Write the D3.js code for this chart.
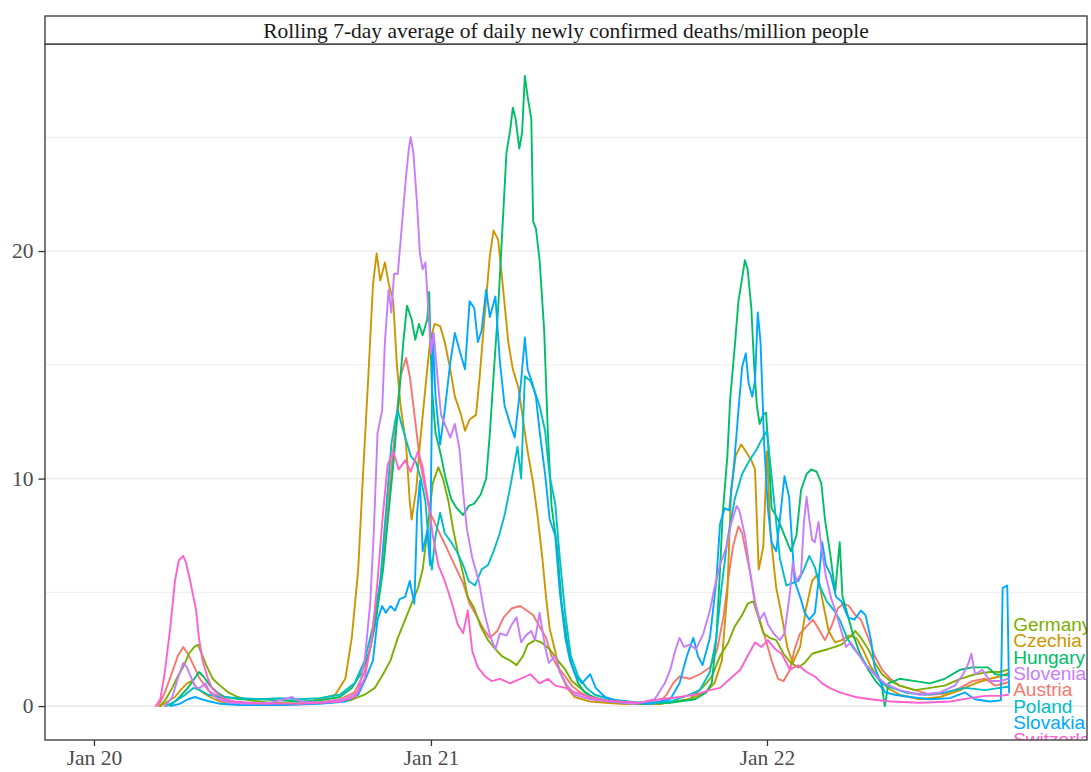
<!DOCTYPE html>
<html><head><meta charset="utf-8">
<script src="https://cdn.jsdelivr.net/npm/d3@7"></script>
<style>body{margin:0;background:#fff}</style>
</head><body>
<svg id="chart" width="1091" height="772"></svg>
<script>
// ---- data (day offsets from 2020-01-01, 7-day rolling avg deaths / million) ----
const countries = ["Austria","Czechia","Germany","Hungary","Poland","Slovakia","Slovenia","Switzerland"];
const colors = ["#F8766D","#CD9600","#7CAE00","#00BE67","#00BFC4","#00A9FF","#C77CFF","#FF61CC"];
const titleText = "Rolling 7-day average of daily newly confirmed deaths/million people";
const yTickValues = [0,10,20];
const yMinorValues = [5,15,25];
const xTickDays = [0,366,731];
const xTickLabels = ["Jan 20","Jan 21","Jan 22"];

const austria = [[70,0],[77,0.6],[85,1.5],[91,2.2],[97,2.6],[102,2.3],[108,1.8],[115,1.2],[124,0.7],[135,0.4],[148,0.2],[169,0.1],[202,0.05],[235,0.1],[267,0.3],[283,0.6],[294,1.5],[305,3.5],[314,6.5],[322,10],[328,12.5],[333,14.5],[339,15.3],[343,14.5],[349,12.5],[354,10.8],[360,9.5],[365,8.5],[373,7.8],[379,7.3],[387,6.6],[394,6.0],[401,5.4],[408,4.5],[415,4.0],[423,3.4],[430,3.0],[438,3.3],[445,3.9],[454,4.3],[463,4.4],[470,4.2],[477,4.0],[484,3.5],[491,3.0],[497,2.2],[504,1.7],[512,1.3],[519,0.9],[528,0.6],[539,0.35],[555,0.2],[577,0.1],[604,0.12],[615,0.2],[622,0.5],[629,1.0],[636,1.3],[647,1.2],[658,1.4],[669,1.7],[677,2.5],[684,4.0],[689,5.6],[694,7.0],[700,7.9],[704,7.6],[708,6.8],[713,5.8],[718,4.6],[723,3.8],[729,3.0],[736,2.0],[743,1.2],[749,1.1],[756,1.6],[761,2.5],[767,3.2],[774,3.5],[781,3.8],[787,3.4],[794,2.9],[801,3.5],[808,4.3],[814,4.5],[820,4.4],[827,4.0],[833,3.8],[841,3.0],[848,2.2],[856,1.6],[865,1.2],[875,0.9],[892,0.7],[908,0.5],[924,0.55],[941,0.8],[954,1.1],[968,1.2],[979,0.9],[993,1.05]];

const czechia = [[72,0],[80,0.2],[88,0.4],[94,0.7],[101,1.0],[106,1.1],[112,0.8],[118,0.6],[126,0.4],[137,0.2],[159,0.1],[191,0.1],[224,0.1],[245,0.3],[262,0.5],[273,1.2],[280,3],[287,6],[292,10],[298,14.5],[303,18.5],[307,19.9],[311,18.7],[316,19.5],[320,18.6],[325,17.8],[329,15.0],[333,13.2],[339,11.5],[343,9.0],[345,8.2],[350,9.5],[354,11.5],[360,14.0],[365,16.0],[370,16.8],[376,16.7],[381,16.0],[387,14.8],[392,13.6],[398,12.9],[403,12.1],[408,12.6],[415,12.8],[419,14.5],[424,17.0],[430,19.8],[434,20.9],[439,20.5],[444,18.5],[450,16.0],[455,14.8],[461,14.0],[466,12.6],[471,11.2],[477,9.8],[482,8.3],[487,6.5],[491,4.8],[495,3.4],[501,2.4],[506,1.5],[514,0.8],[522,0.4],[539,0.2],[571,0.1],[615,0.1],[647,0.3],[664,0.6],[674,1.0],[682,2.0],[688,5.0],[692,9.5],[697,11.0],[703,11.5],[708,11.2],[714,10.8],[718,10.4],[722,6.0],[727,7.0],[731,11.2],[735,7.5],[741,5.2],[746,4.2],[753,2.6],[759,1.9],[767,2.6],[773,4.2],[780,5.5],[786,5.8],[792,4.5],[798,3.3],[805,2.8],[812,2.9],[820,3.1],[828,3.0],[835,2.5],[843,1.8],[852,1.2],[862,0.8],[875,0.5],[897,0.3],[919,0.4],[941,0.7],[957,1.0],[973,1.2],[984,1.3],[993,1.45]];

const germany = [[72,0],[78,0.3],[85,0.8],[91,1.3],[98,1.8],[103,2.3],[109,2.6],[113,2.7],[117,2.3],[123,1.7],[129,1.2],[137,0.9],[146,0.6],[156,0.4],[169,0.25],[191,0.15],[224,0.1],[256,0.15],[278,0.25],[294,0.5],[305,0.8],[314,1.4],[322,2.0],[330,3.0],[338,3.8],[345,4.5],[352,5.2],[357,6.0],[363,8.0],[368,9.8],[374,10.5],[379,10.0],[385,9.0],[390,7.8],[395,6.8],[401,5.8],[406,4.8],[413,4.3],[420,3.5],[428,2.9],[436,2.5],[443,2.2],[452,2.0],[459,1.8],[466,2.2],[471,2.7],[479,2.9],[486,2.8],[495,2.5],[504,2.0],[512,1.6],[519,1.1],[528,0.8],[539,0.45],[555,0.25],[577,0.12],[615,0.1],[647,0.3],[663,0.9],[671,1.3],[680,2.2],[689,2.8],[696,3.5],[704,4.0],[710,4.5],[716,4.6],[721,4.0],[727,3.2],[734,3.0],[741,2.9],[749,2.3],[757,1.9],[765,1.7],[772,1.9],[780,2.3],[788,2.4],[797,2.5],[805,2.6],[812,2.7],[820,3.0],[827,3.3],[833,3.0],[841,2.5],[848,1.9],[856,1.4],[865,1.1],[875,0.9],[892,0.7],[908,0.8],[924,0.9],[941,1.2],[957,1.4],[973,1.5],[984,1.5],[993,1.6]];

const hungary = [[77,0],[85,0.1],[93,0.4],[102,0.8],[109,1.2],[114,1.5],[119,1.3],[126,0.9],[134,0.6],[142,0.4],[159,0.3],[180,0.3],[202,0.25],[224,0.2],[245,0.25],[267,0.4],[280,0.8],[291,1.5],[300,2.5],[307,4.0],[314,6.0],[320,8.5],[326,11.0],[331,13.5],[336,16.0],[340,17.6],[345,17.0],[349,16.1],[353,16.8],[357,16.3],[362,17.0],[364,18.2],[367,14.0],[371,12.0],[377,11.0],[382,10.0],[388,9.1],[394,8.7],[401,8.4],[407,8.8],[413,8.9],[420,9.3],[426,10.0],[430,12.0],[434,14.5],[439,17.5],[443,20.5],[448,24.3],[452,25.3],[455,26.3],[458,25.8],[462,24.5],[465,25.2],[468,27.7],[471,26.8],[475,25.8],[477,21.3],[480,21.0],[484,19.6],[489,16.5],[493,12.0],[497,8.8],[503,7.0],[508,4.5],[514,2.8],[519,1.8],[526,1.0],[533,0.6],[544,0.35],[560,0.2],[593,0.1],[626,0.15],[653,0.3],[665,0.6],[671,1.0],[676,3.0],[680,6.0],[683,8.5],[688,11],[691,13.5],[696,15.8],[700,17.8],[704,18.8],[707,19.6],[710,19.2],[714,17.5],[717,15.0],[720,13.2],[723,12.4],[727,12.8],[730,12.9],[733,11.0],[736,8.7],[743,8.2],[750,7.5],[757,6.8],[763,7.5],[768,9.5],[774,10.2],[779,10.4],[785,10.3],[790,9.8],[794,8.2],[800,6.6],[805,5.0],[810,7.2],[813,4.8],[818,4.1],[824,3.2],[832,2.3],[841,1.6],[849,1.1],[856,0.8],[859,0.0],[863,1.0],[875,1.2],[892,1.1],[908,1.0],[924,1.2],[941,1.6],[954,1.7],[971,1.7],[979,1.4],[993,1.35]];

const poland = [[77,0],[88,0.2],[99,0.5],[108,0.8],[115,0.7],[124,0.5],[137,0.4],[159,0.35],[180,0.3],[202,0.35],[224,0.3],[245,0.35],[267,0.5],[283,1.0],[294,2.0],[303,3.5],[311,5.5],[317,8.5],[323,11.5],[327,12.5],[330,13.0],[334,12.4],[339,11.7],[344,11.0],[350,10.7],[355,10.0],[360,9.0],[364,7.0],[367,6.0],[371,7.5],[376,8.5],[381,7.6],[388,7.2],[394,6.8],[401,6.2],[407,5.5],[414,5.3],[421,6.0],[428,6.2],[434,6.8],[440,7.5],[446,8.4],[452,9.6],[456,10.5],[460,11.4],[464,10.0],[468,14.5],[474,14.3],[479,13.8],[484,13.2],[490,12.1],[495,10.1],[501,8.9],[506,6.5],[512,4.0],[518,2.2],[526,1.3],[535,0.8],[544,0.5],[560,0.3],[593,0.15],[626,0.2],[647,0.5],[658,0.7],[669,1.5],[676,3.0],[681,5.0],[688,7.3],[696,9.1],[704,10.2],[712,10.8],[720,11.3],[725,11.7],[731,12.1],[735,10.5],[740,8.5],[745,6.5],[752,5.3],[758,5.4],[765,5.5],[771,6.0],[777,6.6],[783,6.1],[788,5.3],[796,4.6],[804,4.2],[810,3.8],[818,3.0],[824,2.6],[832,2.2],[839,1.8],[848,1.4],[856,1.0],[867,0.8],[881,0.6],[903,0.5],[924,0.6],[946,0.8],[968,0.7],[984,0.8],[993,0.85]];

const slovakia = [[83,0],[93,0.1],[102,0.3],[110,0.4],[117,0.3],[126,0.2],[137,0.1],[159,0.05],[202,0.05],[245,0.1],[273,0.2],[287,0.5],[295,1.2],[303,2.0],[308,3.8],[313,4.4],[317,4.1],[322,4.4],[327,4.2],[332,4.7],[338,4.8],[343,5.5],[348,4.5],[351,8.5],[354,9.9],[357,6.8],[362,7.7],[365,6.2],[368,16.3],[371,13.6],[376,11.5],[381,13.0],[387,15.1],[392,16.4],[398,15.5],[403,14.8],[408,17.8],[413,17.5],[417,16.0],[421,16.5],[426,18.3],[430,17.1],[436,18.0],[441,15.1],[446,13.2],[452,12.4],[457,11.8],[460,12.9],[464,14.3],[468,16.2],[471,14.8],[476,14.2],[480,13.6],[484,12.1],[490,10.2],[495,8.2],[501,7.5],[506,5.0],[512,3.0],[517,2.0],[524,1.3],[530,1.0],[539,1.4],[545,0.8],[555,0.4],[571,0.2],[604,0.1],[626,0.3],[636,1.0],[644,2.2],[651,3.0],[656,2.2],[661,1.8],[669,3.0],[676,5.5],[680,8.0],[685,8.7],[690,8.6],[695,10.5],[700,13.0],[704,14.9],[708,15.5],[711,14.2],[715,13.6],[718,14.3],[721,17.3],[724,16.0],[728,11.5],[732,8.7],[736,7.2],[741,6.8],[745,8.2],[750,10.1],[755,9.2],[761,5.5],[767,4.8],[772,4.1],[777,3.8],[783,4.1],[787,5.5],[791,7.2],[795,6.2],[800,5.8],[806,4.8],[812,4.6],[819,3.9],[826,3.8],[833,4.2],[838,4.0],[844,2.9],[848,1.7],[859,0.6],[870,0.5],[886,0.4],[908,0.3],[930,0.35],[946,0.6],[957,0.3],[973,0.2],[985,0.25],[987,5.2],[992,5.3],[994,0.6]];

const slovenia = [[77,0],[85,0.4],[91,1.2],[97,1.9],[101,1.7],[105,1.3],[111,0.8],[115,0.8],[121,1.0],[126,0.6],[135,0.3],[148,0.15],[169,0.1],[191,0.15],[207,0.3],[215,0.4],[224,0.2],[245,0.15],[273,0.3],[287,0.6],[294,2.0],[300,4.5],[304,7.7],[308,12.0],[313,13.0],[316,16.0],[320,18.3],[323,17.3],[326,19.0],[330,19.0],[335,21.4],[339,23.3],[342,24.5],[344,25.0],[347,24.3],[351,22.0],[354,19.9],[357,19.2],[360,19.5],[363,17.5],[366,15.5],[369,16.4],[373,14.5],[377,12.8],[381,12.4],[387,11.8],[392,12.4],[397,11.3],[401,9.4],[405,7.8],[411,6.5],[418,5.5],[424,4.1],[431,3.0],[436,2.5],[441,3.2],[448,3.1],[454,3.6],[459,3.9],[464,2.8],[469,3.1],[475,3.3],[479,2.9],[484,4.1],[490,2.6],[494,1.9],[501,2.2],[506,1.5],[514,0.9],[522,0.5],[539,0.3],[560,0.2],[588,0.1],[609,0.3],[620,1.0],[626,1.6],[631,2.4],[636,3.0],[641,2.6],[647,2.7],[654,2.5],[662,3.2],[669,4.2],[674,5.2],[680,6.2],[687,7.0],[692,8.0],[698,8.8],[701,8.6],[707,7.5],[713,5.8],[718,4.5],[723,3.8],[728,4.1],[732,3.6],[738,3.2],[745,2.9],[750,3.2],[756,5.0],[759,6.3],[763,5.5],[768,5.8],[771,8.0],[774,9.2],[777,8.2],[780,7.3],[783,7.2],[787,8.1],[790,7.0],[795,5.7],[801,4.7],[806,4.1],[811,3.4],[817,2.6],[822,2.8],[830,2.3],[838,1.8],[848,1.4],[859,1.0],[875,0.7],[897,0.5],[919,0.6],[935,0.9],[944,1.4],[950,1.9],[953,2.3],[957,1.4],[965,1.6],[973,1.1],[984,1.1],[993,1.2]];

const switzerland = [[67,0],[72,0.3],[77,1.5],[83,3.5],[88,5.5],[92,6.4],[97,6.6],[100,6.3],[104,5.6],[108,4.8],[111,4.2],[114,3.0],[118,2.0],[123,1.3],[128,0.8],[135,0.5],[142,0.3],[153,0.2],[169,0.15],[186,0.1],[202,0.12],[224,0.1],[245,0.15],[267,0.2],[283,0.4],[294,1.2],[302,3],[308,5.5],[314,8.5],[319,10.6],[325,11.2],[331,10.4],[338,10.8],[344,10.3],[352,11.2],[357,10.5],[363,9.0],[368,7.5],[374,6.2],[381,5.5],[389,4.5],[395,3.6],[401,3.2],[406,4.2],[411,2.4],[417,1.7],[425,1.3],[432,1.1],[441,1.2],[452,1.0],[463,1.2],[474,1.4],[484,1.0],[493,1.2],[501,0.9],[512,0.8],[522,0.6],[539,0.4],[555,0.25],[571,0.2],[593,0.15],[615,0.3],[636,0.4],[653,0.5],[669,0.7],[680,0.8],[691,1.2],[702,1.6],[710,2.2],[718,2.8],[725,2.6],[732,2.9],[740,2.5],[747,2.3],[756,1.6],[765,1.8],[774,1.5],[783,1.3],[791,1.0],[799,0.8],[810,0.6],[827,0.4],[843,0.3],[865,0.2],[897,0.15],[930,0.2],[951,0.35],[968,0.45],[984,0.45],[993,0.5]];

const seriesValues = [austria, czechia, germany, hungary, poland, slovakia, slovenia, switzerland];

// ---- chart ----
const DAY = 864e5;
const origin = Date.UTC(2020,0,1);
const toDate = d => new Date(origin + d*DAY);

const W = 1091, H = 772;
const panel = {left:45, right:1087, top:44, bottom:740};
const stripTop = 16;

const svg = d3.select("#chart");
svg.append("rect").attr("width",W).attr("height",H).attr("fill","#fff");

const x = d3.scaleUtc()
  .domain([toDate(-53.2), toDate(1078.6)])
  .range([panel.left, panel.right]);
const y = d3.scaleLinear()
  .domain([-1.49, 29.1])
  .range([panel.bottom, panel.top]);

const serif = "'Liberation Serif','Times New Roman',Times,serif";
const sans = "'Liberation Sans',Arial,Helvetica,sans-serif";

// clip
svg.append("defs").append("clipPath").attr("id","pclip")
  .append("rect").attr("x",panel.left).attr("y",panel.top)
  .attr("width",panel.right-panel.left).attr("height",panel.bottom-panel.top);

// gridlines
const grid = svg.append("g");
grid.selectAll("line.minor").data(yMinorValues).join("line")
  .attr("x1",panel.left).attr("x2",panel.right)
  .attr("y1",d=>y(d)).attr("y2",d=>y(d))
  .attr("stroke","#EBEBEB").attr("stroke-width",0.9);
grid.selectAll("line.major").data(yTickValues).join("line")
  .attr("x1",panel.left).attr("x2",panel.right)
  .attr("y1",d=>y(d)).attr("y2",d=>y(d))
  .attr("stroke","#EBEBEB").attr("stroke-width",1.6);

// lines
const line = d3.line().x(d=>x(toDate(d[0]))).y(d=>y(d[1])).curve(d3.curveLinear);
const plot = svg.append("g").attr("clip-path","url(#pclip)");
seriesValues.forEach((s,i)=>{
  plot.append("path").datum(s)
    .attr("d",line)
    .attr("fill","none")
    .attr("stroke",colors[i])
    .attr("stroke-width",1.9)
    .attr("stroke-linejoin","round")
    .attr("stroke-linecap","round");
});

// direct labels at series ends (spread to avoid overlap, centred on mean of end values)
const ends = countries.map((c,i)=>{
  const last = seriesValues[i][seriesValues[i].length-1];
  return {name:c, color:colors[i], day:last[0], v:last[1], yy:y(last[1])};
});
ends.sort((a,b)=>b.v-a.v);
const gap = 16.4;
const meanY = d3.mean(ends, e=>e.yy);
const startY = meanY - gap*(ends.length-1)/2;
const labelX = x(toDate(d3.max(ends.filter(e=>e.name!=="Slovakia"), e=>e.day))) + 5;
plot.selectAll("text.lab").data(ends).join("text")
  .attr("x",labelX)
  .attr("y",(d,i)=>startY + i*gap + 6.5)
  .attr("fill",d=>d.color)
  .attr("font-family",sans)
  .attr("font-size",19)
  .text(d=>d.name);

// panel border
svg.append("rect")
  .attr("x",panel.left).attr("y",panel.top)
  .attr("width",panel.right-panel.left).attr("height",panel.bottom-panel.top)
  .attr("fill","none").attr("stroke","#333333").attr("stroke-width",1.3);

// strip
svg.append("rect")
  .attr("x",panel.left).attr("y",stripTop)
  .attr("width",panel.right-panel.left).attr("height",panel.top-stripTop)
  .attr("fill","#fff").attr("stroke","#333333").attr("stroke-width",1.3);
svg.append("text")
  .attr("x",(panel.left+panel.right)/2).attr("y",(stripTop+panel.top)/2)
  .attr("dy","0.35em")
  .attr("text-anchor","middle")
  .attr("font-family",serif).attr("font-size",21.5).attr("fill","#1A1A1A")
  .text(titleText);

// axes
const yAxis = svg.append("g").attr("transform",`translate(${panel.left},0)`)
  .call(d3.axisLeft(y).tickValues(yTickValues).tickSize(6.5).tickPadding(5).tickFormat(d3.format("d")));
yAxis.select(".domain").remove();
yAxis.selectAll(".tick line").attr("stroke","#333333").attr("stroke-width",1.3);
yAxis.selectAll(".tick text").attr("fill","#4D4D4D").attr("font-family",serif).attr("font-size",21.5);

const xAxis = svg.append("g").attr("transform",`translate(0,${panel.bottom})`)
  .call(d3.axisBottom(x).tickValues(xTickDays.map(toDate)).tickSize(6).tickPadding(4)
    .tickFormat((d,i)=>xTickLabels[i]));
xAxis.select(".domain").remove();
xAxis.selectAll(".tick line").attr("stroke","#333333").attr("stroke-width",1.3);
xAxis.selectAll(".tick text").attr("fill","#4D4D4D").attr("font-family",serif).attr("font-size",21.5);
</script>
</body></html>
